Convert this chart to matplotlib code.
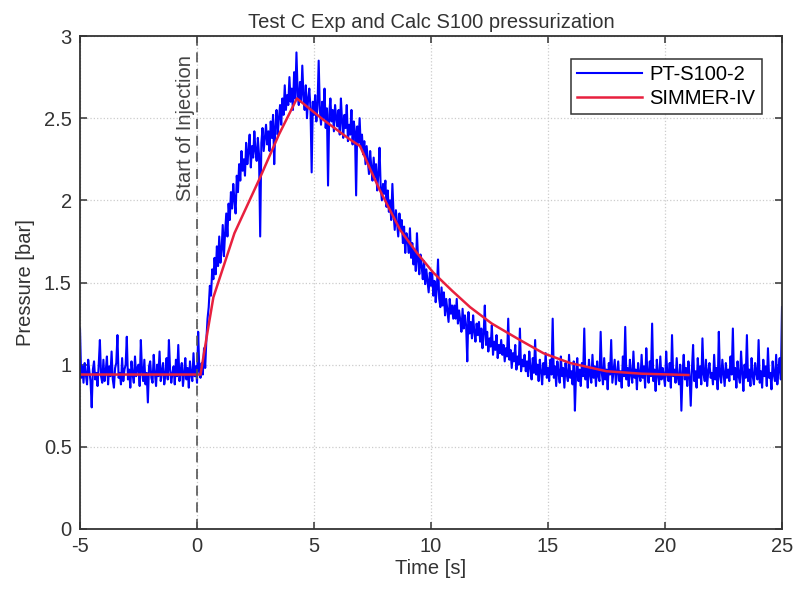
import numpy as np
import matplotlib
matplotlib.use("Agg")
import matplotlib.pyplot as plt

plt.rcParams['font.family'] = ['Liberation Sans', 'DejaVu Sans']
plt.rcParams['axes.unicode_minus'] = False

t_start = -5.0
t_end = 25.0
pt_s100_2 = [
    # -5 .. -0.05 s
    1.22, 0.92, 0.99, 0.89, 1.01, 0.94, 0.88, 1.03, 0.96, 0.90, 0.74, 0.97, 1.02, 0.91, 0.95, 0.87, 1.00, 1.15, 0.93, 0.89,
    1.03, 0.90, 0.96, 1.05, 0.88, 0.99, 0.93, 1.08, 0.91, 0.86, 0.98, 1.01, 1.18, 0.92, 0.95, 0.88, 1.04, 0.90, 0.97, 1.00,
    1.17, 0.91, 0.97, 0.86, 1.02, 0.94, 0.89, 1.05, 0.93, 0.98, 1.00, 0.87, 1.15, 0.96, 0.90, 1.03, 0.88, 0.95, 0.77, 0.99,
    1.02, 0.92, 0.89, 1.06, 0.95, 0.87, 1.00, 0.93, 1.08, 0.90, 0.96, 1.01, 0.88, 0.94, 1.04, 0.91, 1.15, 0.97, 0.89, 0.95,
    0.99, 0.88, 1.03, 0.93, 1.12, 0.90, 0.96, 1.01, 0.87, 0.95, 1.04, 0.91, 0.98, 0.86, 1.02, 0.94, 0.90, 1.07, 0.93, 0.99,
    # 0 .. 4.95 s
    0.89, 1.20, 0.96, 0.92, 1.01, 0.94, 1.10, 0.98, 1.15, 1.28, 1.35, 1.48, 1.42, 1.58, 1.52, 1.65, 1.55, 1.72, 1.60, 1.78,
    1.62, 1.70, 1.85, 1.66, 1.80, 1.92, 1.78, 1.98, 1.88, 2.05, 1.95, 2.10, 2.00, 1.92, 2.15, 2.05, 2.22, 2.12, 2.30, 2.18,
    2.25, 2.15, 2.35, 2.22, 2.30, 2.40, 2.20, 2.33, 2.26, 2.42, 2.30, 2.24, 2.38, 2.28, 1.78, 2.35, 2.44, 2.30, 2.38, 2.46,
    2.34, 2.42, 2.30, 2.48, 2.38, 2.52, 2.22, 2.45, 2.55, 2.40, 2.50, 2.58, 2.46, 2.62, 2.52, 2.70, 2.55, 2.64, 2.58, 2.75,
    2.60, 2.68, 2.55, 2.78, 2.62, 2.90, 2.66, 2.58, 2.72, 2.60, 2.82, 2.64, 2.55, 2.70, 2.50, 2.62, 2.68, 2.56, 2.17, 2.60,
    # 5 .. 9.95 s
    2.52, 2.64, 2.48, 2.58, 2.85, 2.55, 2.46, 2.60, 2.50, 2.68, 2.44, 2.56, 2.09, 2.52, 2.62, 2.48, 2.55, 2.42, 2.58, 2.50,
    2.45, 2.55, 2.40, 2.62, 2.48, 2.38, 2.52, 2.44, 2.58, 2.36, 2.46, 2.40, 2.55, 2.34, 2.48, 2.42, 2.03, 2.45, 2.35, 2.50,
    2.32, 2.40, 2.28, 2.36, 2.22, 2.33, 2.24, 2.16, 2.30, 2.20, 2.12, 2.26, 2.14, 2.22, 2.06, 2.16, 2.32, 2.08, 2.00, 2.10,
    2.04, 2.12, 1.96, 2.06, 1.93, 2.00, 1.88, 2.10, 1.92, 1.82, 1.94, 1.86, 1.78, 1.92, 1.82, 1.88, 1.74, 1.84, 1.68, 1.80,
    1.76, 1.68, 1.83, 1.65, 1.74, 1.61, 1.70, 1.57, 1.80, 1.63, 1.55, 1.67, 1.60, 1.52, 1.63, 1.49, 1.58, 1.51, 1.44, 1.56,
    # 10 .. 14.95 s
    1.48, 1.56, 1.42, 1.51, 1.38, 1.46, 1.64, 1.40, 1.35, 1.47, 1.36, 1.44, 1.30, 1.40, 1.33, 1.26, 1.40, 1.31, 1.36, 1.28,
    1.36, 1.28, 1.40, 1.25, 1.33, 1.27, 1.20, 1.34, 1.22, 1.30, 1.24, 1.02, 1.32, 1.19, 1.26, 1.16, 1.30, 1.20, 1.14, 1.25,
    1.18, 1.26, 1.14, 1.22, 1.10, 1.19, 1.36, 1.12, 1.20, 1.08, 1.16, 1.11, 1.24, 1.06, 1.14, 1.09, 1.18, 1.04, 1.12, 1.07,
    1.15, 1.06, 1.12, 1.02, 1.10, 1.05, 1.28, 1.03, 1.09, 0.98, 1.07, 1.02, 1.12, 0.97, 1.05, 1.00, 1.22, 0.96, 1.03, 0.99,
    1.06, 0.96, 1.02, 0.93, 1.08, 0.98, 0.91, 1.04, 0.95, 1.15, 0.94, 1.00, 0.90, 1.03, 0.96, 0.88, 1.01, 0.94, 1.07, 0.92,
    # 15 .. 19.95 s
    0.98, 0.90, 1.03, 0.94, 1.28, 0.92, 0.99, 0.87, 1.02, 0.95, 0.89, 1.05, 0.93, 0.98, 0.86, 1.01, 0.94, 0.90, 1.06, 0.92,
    0.96, 0.88, 1.02, 0.72, 0.95, 1.04, 0.90, 0.97, 0.87, 1.01, 0.93, 1.22, 0.91, 0.98, 0.86, 1.03, 0.94, 0.89, 1.06, 0.92,
    0.99, 0.87, 1.02, 0.93, 0.90, 1.20, 0.95, 0.88, 1.04, 0.91, 0.97, 0.85, 1.01, 0.94, 1.15, 0.89, 0.96, 1.03, 0.88, 0.95,
    1.02, 0.90, 0.96, 0.86, 1.05, 0.93, 1.23, 0.91, 0.98, 0.87, 1.03, 0.94, 0.89, 1.08, 0.92, 0.97, 0.85, 1.01, 0.94, 0.90,
    1.06, 0.92, 0.99, 0.86, 1.10, 0.95, 0.89, 1.02, 0.93, 1.25, 0.90, 0.97, 0.84, 1.03, 0.94, 0.88, 1.05, 0.91, 0.98, 0.93,
    # 20 .. 25 s
    0.87, 1.08, 0.94, 0.90, 1.01, 0.86, 1.18, 0.93, 0.97, 0.89, 1.04, 0.92, 0.88, 1.00, 0.72, 0.95, 1.06, 0.91, 0.98, 0.87,
    1.02, 0.93, 0.75, 0.97, 1.12, 0.90, 0.96, 0.86, 1.04, 0.92, 0.99, 0.88, 1.16, 0.94, 0.90, 1.03, 0.87, 0.96, 1.01, 0.92,
    0.95, 0.88, 1.06, 0.91, 0.98, 0.85, 1.20, 0.93, 0.89, 1.03, 0.95, 0.87, 1.01, 0.92, 0.97, 0.90, 1.05, 0.94, 1.22, 0.91,
    0.98, 0.86, 1.02, 0.93, 0.89, 1.08, 0.95, 0.84, 1.00, 0.92, 1.18, 0.90, 0.97, 0.87, 1.04, 0.93, 0.88, 1.01, 0.95, 0.91,
    1.15, 0.89, 0.96, 0.86, 1.03, 0.93, 0.99, 0.87, 1.10, 0.92, 0.95, 0.85, 1.02, 0.94, 0.90, 1.06, 0.88, 0.97, 1.04, 0.91,
    1.35,
]
t_exp = np.linspace(t_start, t_end, len(pt_s100_2))

# Rechnung SIMMER-IV
t_sim = [-5.0, 0.15, 0.45, 0.7, 1.6, 2.7, 3.5, 4.27, 5.4, 6.54, 6.97, 7.4, 7.82, 8.68,
         9.4, 10.1, 10.9, 11.67, 12.6, 13.8, 14.8, 15.94, 17.5, 19.0, 21.0]
p_sim = [0.94, 0.94, 1.20, 1.41, 1.80, 2.14, 2.40, 2.62, 2.49, 2.37, 2.33, 2.19, 2.06, 1.82,
         1.68, 1.56, 1.45, 1.35, 1.25, 1.15, 1.07, 1.01, 0.96, 0.945, 0.937]

fig = plt.figure(figsize=(7.95, 5.95), dpi=100)
ax = fig.add_axes([80/795, 66/595, 702/795, 493/595])

ax.plot(t_exp, pt_s100_2, color='#0000ff', lw=1.5, label='PT-S100-2')
ax.plot(t_sim, p_sim, color='#e8203e', lw=1.8, label='SIMMER-IV')

ax.axvline(0, color='#555555', lw=1.2, ls=(0, (6, 4)))
ax.text(-0.08, 2.885, 'Start of Injection', rotation=90, ha='right', va='top',
        fontsize=14.5, color='#444444')

ax.set_xlim(-5, 25)
ax.set_ylim(0, 3)
ax.set_xticks([-5, 0, 5, 10, 15, 20, 25])
ax.set_yticks([0, 0.5, 1, 1.5, 2, 2.5, 3])
ax.set_yticklabels(['0', '0.5', '1', '1.5', '2', '2.5', '3'])
ax.grid(True, color='#cccccc', ls=':', lw=0.9)
ax.tick_params(direction='in', length=5, width=1.1, top=True, right=True,
               labelsize=14.5, colors='#333333', labelcolor='#333333', pad=6)
for s in ax.spines.values():
    s.set_linewidth(1.3)
    s.set_color('#333333')

ax.set_title('Test C Exp and Calc S100 pressurization', fontsize=14.5, color='#333333', pad=6)
ax.set_xlabel('Time [s]', fontsize=14.5, color='#333333', labelpad=2)
ax.set_ylabel('Pressure [bar]', fontsize=14.5, color='#333333', labelpad=6)

leg = ax.legend(loc='upper right', bbox_to_anchor=(0.971, 0.953), borderaxespad=0,
                fancybox=False, framealpha=1, edgecolor='#333333', fontsize=14.5,
                handlelength=3.2, handletextpad=0.4, labelspacing=0.25, borderpad=0.3)
leg.get_frame().set_linewidth(1.1)

fig.savefig('out.png', dpi=100)
